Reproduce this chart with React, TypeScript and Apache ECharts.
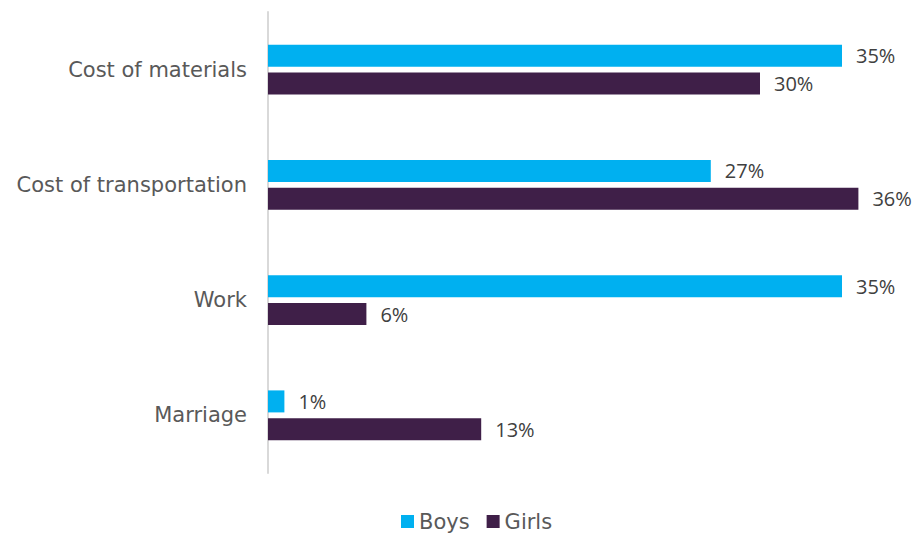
import React, { useEffect, useRef } from "react";
import * as echarts from "echarts";

const categories = ["Cost of materials", "Cost of transportation", "Work", "Marriage"];
const boys = [35, 27, 35, 1];
const girls = [30, 36, 6, 13];

export default function App() {
  const ref = useRef<HTMLDivElement>(null);
  useEffect(() => {
    const chart = echarts.init(ref.current!, null, { renderer: "svg" });
    const labelStyle = {
      show: true,
      position: "right" as const,
      distance: 14,
      formatter: "{c}%",
      color: "#404040",
      fontSize: 20,
      fontFamily: "Open Sans",
    };
    chart.setOption({
      animation: false,
      backgroundColor: "#ffffff",
      legend: {
        top: 511,
        left: 401,
        padding: 0,
        itemWidth: 13,
        itemHeight: 13,
        itemGap: 17,
        icon: "rect",
        textStyle: { color: "#595959", fontSize: 21, fontFamily: "DejaVu Sans" },
        data: ["Boys", "Girls"],
      },
      grid: { left: 268, top: 12, height: 461, width: 639.6 },
      xAxis: {
        type: "value",
        min: 0,
        max: 39,
        show: false,
      },
      yAxis: {
        type: "category",
        data: categories,
        inverse: true,
        axisLine: { show: true, lineStyle: { color: "#D9D9D9", width: 2 } },
        axisTick: { show: false },
        axisLabel: {
          color: "#595959",
          fontSize: 21,
          fontFamily: "DejaVu Sans",
          margin: 21,
          padding: [3, 0, 0, 0],
        },
      },
      series: [
        {
          name: "Boys",
          type: "bar",
          data: boys,
          barWidth: 22,
          barGap: "27%",
          itemStyle: { color: "#00B0F0" },
          label: labelStyle,
        },
        {
          name: "Girls",
          type: "bar",
          data: girls,
          barWidth: 22,
          barGap: "27%",
          itemStyle: { color: "#3F1F48" },
          label: labelStyle,
        },
      ],
    });
    return () => chart.dispose();
  }, []);
  return <div ref={ref} style={{ width: 917, height: 534, position: "absolute", left: 0, top: 0 }} />;
}
